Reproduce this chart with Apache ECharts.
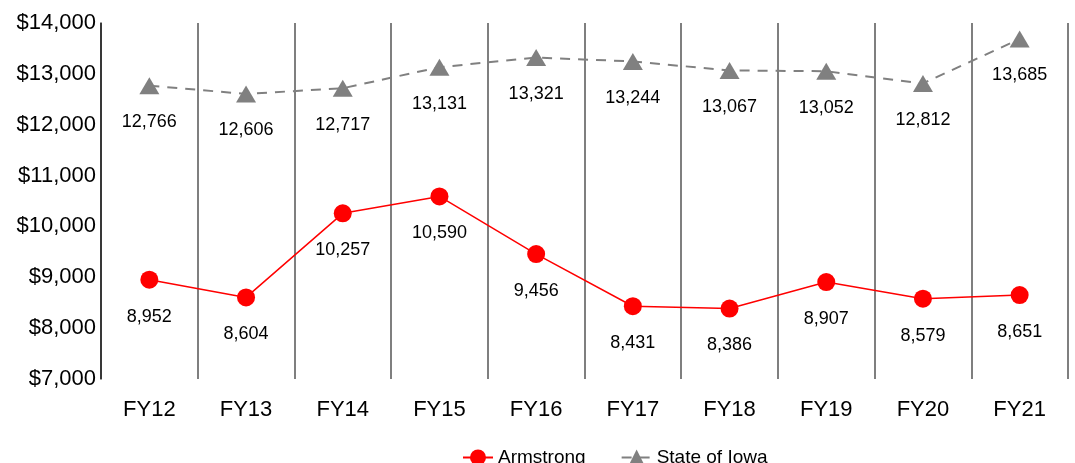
<!DOCTYPE html>
<html>
<head>
<meta charset="utf-8">
<script src="https://cdn.jsdelivr.net/npm/echarts@6/dist/echarts.min.js"></script>
<style>
    html, body { margin: 0; padding: 0; background: #fff; }
    #chart { width: 1075px; height: 463px; }
</style>
</head>
<body>
<div id="chart"></div>
<script>
// values
const years = ['FY12', 'FY13', 'FY14', 'FY15', 'FY16', 'FY17', 'FY18', 'FY19', 'FY20', 'FY21'];
const armstrong = [8952, 8604, 10257, 10590, 9456, 8431, 8386, 8907, 8579, 8651];
const stateOfIowa = [12766, 12606, 12717, 13131, 13321, 13244, 13067, 13052, 12812, 13685];

const fontFamily = '"Liberation Sans", Arial, sans-serif';
const fmt = v => v.toLocaleString('en-US');

const chart = echarts.init(document.getElementById('chart'));

const dataLabel = {
    show: true,
    position: 'bottom',
    distance: 19,
    fontSize: 18,
    color: '#000',
    formatter: p => fmt(p.value)
};

chart.setOption({
    animation: false,
    textStyle: { fontFamily: fontFamily },
    grid: { left: 101, right: 7, top: 23, bottom: 84 },
    legend: {
        left: 457,
        top: 443,
        itemWidth: 30,
        itemHeight: 20,
        itemGap: 35,
        textStyle: { fontSize: 19, color: '#000', fontFamily: fontFamily },
        data: ['Armstrong', 'State of Iowa']
    },
    xAxis: {
        type: 'category',
        data: years,
        boundaryGap: true,
        axisLine: { show: false },
        axisTick: { show: false },
        axisLabel: { fontSize: 22, color: '#000', margin: 20, fontFamily: fontFamily },
        splitLine: { show: true, interval: 0, lineStyle: { color: '#555', width: 1.5 } }
    },
    yAxis: {
        type: 'value',
        min: 7000,
        max: 14000,
        interval: 1000,
        axisLine: { show: true, lineStyle: { color: '#222', width: 1.5 } },
        axisTick: { show: false },
        splitLine: { show: false },
        axisLabel: {
            fontSize: 22,
            color: '#000',
            margin: 5,
            fontFamily: fontFamily,
            formatter: v => '$' + fmt(v)
        }
    },
    series: [
        {
            name: 'Armstrong',
            type: 'line',
            data: armstrong,
            symbol: 'circle',
            symbolSize: 18,
            itemStyle: { color: '#ff0000' },
            lineStyle: { color: '#ff0000', width: 1.5 },
            label: dataLabel
        },
        {
            name: 'State of Iowa',
            type: 'line',
            data: stateOfIowa,
            symbol: 'triangle',
            symbolSize: [20, 17],
            itemStyle: { color: '#808080' },
            lineStyle: { color: '#808080', width: 2, type: [10, 8] },
            label: dataLabel
        }
    ]
});
</script>
</body>
</html>
